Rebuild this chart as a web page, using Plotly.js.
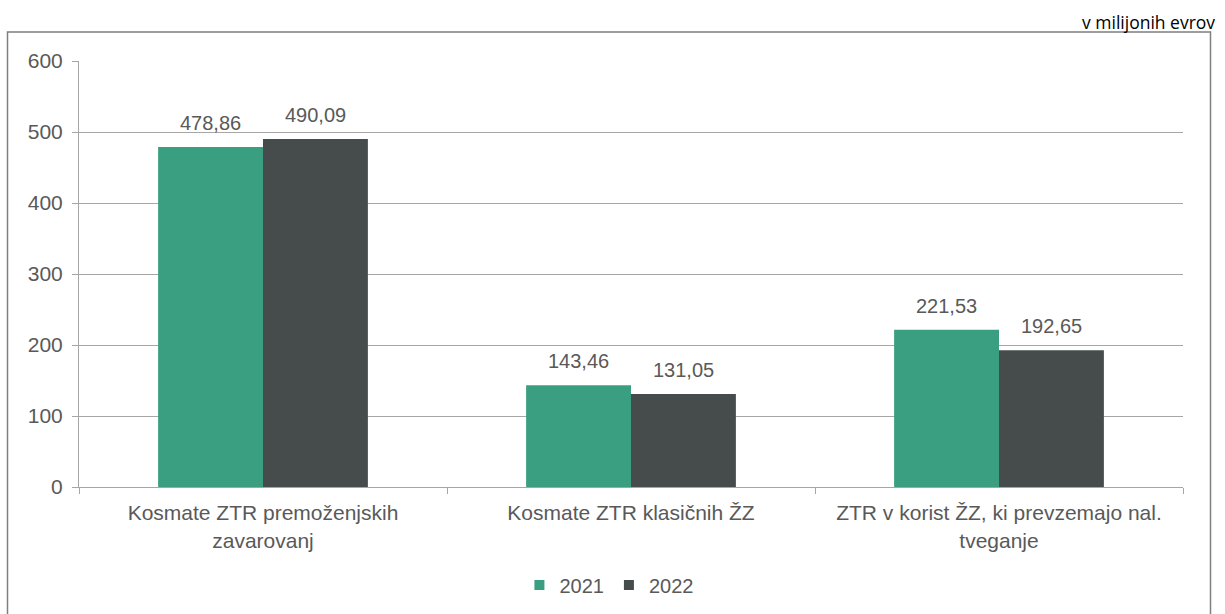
<!DOCTYPE html>
<html>
<head>
<meta charset="utf-8">
<script src="https://cdn.plot.ly/plotly-3.0.1.min.js"></script>
<style>
html,body{margin:0;padding:0;background:#fff;}
#chart{width:1225px;height:614px;}
</style>
</head>
<body>
<div id="chart"></div>
<script>
const categories = [
  "Kosmate ZTR premoženjskih<br>zavarovanj",
  "Kosmate ZTR klasičnih ŽZ",
  "ZTR v korist ŽZ, ki prevzemajo nal.<br>tveganje"
];
const series2021 = [478.86, 143.46, 221.53];
const series2022 = [490.09, 131.05, 192.65];
const seriesNames = ["2021", "2022"];
const seriesColors = ['#3a9f80', '#464c4c'];
const yTicks = [0, 100, 200, 300, 400, 500, 600];
const unitLabel = "v milijonih evrov";

const fmt = v => v.toFixed(2).replace('.', ',');
const fontFam = '"Liberation Sans", Arial, sans-serif';
const textGray = '#595959';

const W = 1225, H = 614;
const margin = {l: 79, r: 42, t: 61, b: 127};
const bargap = 0.43;
const plotW = W - margin.l - margin.r;
const barHalf = (plotW / categories.length) * (1 - bargap) / 4;

const allSeries = [series2021, series2022];

const traces = allSeries.map((s, i) => ({
  type: 'bar', name: seriesNames[i], x: categories, y: s,
  marker: {color: seriesColors[i]}, showlegend: false, hoverinfo: 'none'
}));
// legend entries (small squares, like the reference)
seriesNames.forEach((n, i) => traces.push({
  type: 'scatter', mode: 'markers', name: n, x: [categories[0]], y: [null],
  marker: {symbol: 'square', size: 10, color: seriesColors[i]}, showlegend: true
}));

const annotations = [];
allSeries.forEach((s, i) => s.forEach((v, j) => annotations.push({
  x: categories[j], y: v, xref: 'x', yref: 'y', text: fmt(v),
  showarrow: false, xanchor: 'center', yanchor: 'bottom',
  xshift: (i === 0 ? -1 : 1) * barHalf, yshift: 11,
  font: {family: fontFam, size: 20, color: textGray}
})));
annotations.push({
  text: unitLabel, xref: 'paper', yref: 'paper', x: (1217 - margin.l) / plotW, y: 1.0915,
  xanchor: 'right', yanchor: 'middle', showarrow: false,
  font: {family: '"Open Sans", "Noto Sans", sans-serif', size: 17.5, color: '#000000'}
});

const layout = {
  width: W, height: H, margin: margin,
  paper_bgcolor: '#ffffff', plot_bgcolor: '#ffffff',
  font: {family: fontFam, size: 21, color: textGray},
  barmode: 'group', bargap: bargap, bargroupgap: 0,
  showlegend: true,
  legend: {orientation: 'h', x: 0.480, xanchor: 'center',
           yref: 'container', y: 1 - 585 / H, yanchor: 'middle',
           font: {family: fontFam, size: 20, color: textGray}, itemwidth: 30},
  xaxis: {
    type: 'category', tickson: 'boundaries', ticks: 'outside', ticklen: 6,
    tickcolor: '#a6a6a6', showline: true, linecolor: '#a6a6a6', linewidth: 1,
    showgrid: false, ticklabelstandoff: 7, automargin: false,
    tickfont: {family: fontFam, size: 21, color: textGray}
  },
  yaxis: {
    range: [0, 600], tickvals: yTicks, ticks: 'outside', ticklen: 6,
    tickcolor: '#a6a6a6', showline: true, linecolor: '#a6a6a6', linewidth: 1,
    showgrid: true, gridcolor: '#a6a6a6', gridwidth: 1, zeroline: false,
    ticklabelstandoff: 5, automargin: false,
    tickfont: {family: fontFam, size: 21, color: textGray}
  },
  shapes: [{
    type: 'rect', xref: 'paper', yref: 'paper',
    x0: (7.5 - margin.l) / plotW, x1: (1210.5 - margin.l) / plotW, y0: -0.32, y1: 1.068,
    line: {color: '#7f7f7f', width: 1.5}, fillcolor: 'rgba(0,0,0,0)', layer: 'below'
  }],
  annotations: annotations
};

Plotly.newPlot('chart', traces, layout, {displayModeBar: false, staticPlot: true});
</script>
</body>
</html>
